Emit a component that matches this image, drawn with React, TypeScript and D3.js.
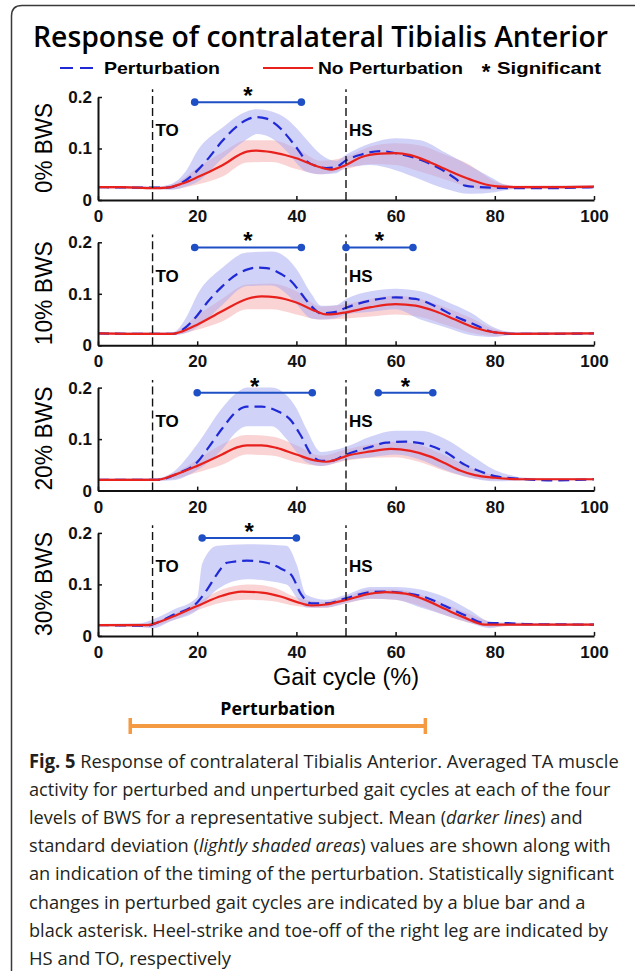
// Response of contralateral Tibialis Anterior - four BWS panels drawn with d3
import React, { useRef, useEffect } from 'react';
import * as d3 from 'd3';

// gait cycle event markers (% of cycle)
const toeOff = 11;
const heelStrike = 50;

const bwsLabels = ['0% BWS', '10% BWS', '20% BWS', '30% BWS'];
const xTicks = [0, 20, 40, 60, 80, 100];
const yTicks = [0, 0.1, 0.2];

// mean curves [gait %, activity]
const bws0Pert = [[0,0.025],[10,0.024],[14,0.024],[17,0.034],[20,0.057],[22,0.078],[25,0.114],[28,0.143],[30,0.156],[32,0.161],[34,0.158],[36,0.146],[38,0.126],[40,0.102],[42,0.076],[44,0.066],[46,0.062],[48,0.064],[50,0.077],[53,0.088],[57,0.095],[60,0.091],[65,0.078],[70,0.055],[72,0.042],[74,0.028],[77,0.025],[85,0.023],[90,0.023],[100,0.025]];
const bws0NoPert = [[0,0.025],[5,0.025],[11,0.023],[14,0.024],[17,0.032],[20,0.044],[25,0.067],[30,0.094],[32,0.096],[35,0.093],[40,0.081],[44,0.066],[47,0.059],[50,0.068],[53,0.083],[57,0.09],[60,0.091],[63,0.087],[67,0.073],[70,0.06],[75,0.04],[80,0.027],[85,0.025],[90,0.025],[100,0.026]];
const bws10Pert = [[0,0.023],[15,0.022],[17,0.03],[20,0.058],[22,0.083],[25,0.114],[28,0.138],[30,0.147],[32,0.151],[34,0.15],[37,0.138],[39,0.124],[41,0.1],[43,0.076],[45,0.062],[48,0.065],[50,0.073],[55,0.087],[60,0.093],[64,0.09],[68,0.076],[72,0.056],[76,0.04],[78,0.031],[80,0.025],[85,0.022],[100,0.023]];
const bws10NoPert = [[0,0.023],[10,0.022],[15,0.022],[17,0.027],[20,0.04],[25,0.066],[30,0.09],[33,0.095],[36,0.093],[40,0.083],[44,0.066],[46,0.06],[48,0.061],[50,0.064],[55,0.074],[60,0.08],[64,0.077],[68,0.066],[72,0.05],[76,0.034],[80,0.025],[85,0.022],[100,0.023]];
const bws20Pert = [[0,0.021],[12,0.021],[16,0.033],[20,0.055],[22,0.08],[25,0.12],[28,0.154],[30,0.163],[33,0.163],[36,0.155],[39,0.135],[41,0.105],[43,0.07],[45,0.058],[47,0.058],[50,0.07],[55,0.085],[58,0.093],[62,0.095],[66,0.09],[70,0.075],[74,0.05],[78,0.034],[80,0.028],[85,0.023],[92,0.02],[100,0.022]];
const bws20NoPert = [[0,0.021],[12,0.021],[15,0.029],[20,0.048],[25,0.07],[28,0.084],[30,0.088],[33,0.088],[36,0.083],[40,0.07],[44,0.058],[46,0.056],[48,0.06],[50,0.067],[55,0.076],[59,0.081],[63,0.077],[67,0.066],[70,0.053],[73,0.039],[76,0.03],[80,0.025],[85,0.022],[100,0.022]];
const bws30Pert = [[0,0.021],[10,0.02],[12,0.026],[15,0.04],[20,0.065],[22,0.09],[24,0.12],[26,0.142],[30,0.146],[34,0.142],[37,0.13],[39,0.118],[41,0.08],[43,0.063],[46,0.063],[50,0.073],[55,0.085],[58,0.086],[62,0.083],[66,0.075],[70,0.058],[74,0.04],[78,0.025],[82,0.025],[86,0.023],[100,0.022]];
const bws30NoPert = [[0,0.021],[10,0.021],[12,0.026],[15,0.037],[20,0.058],[25,0.078],[29,0.086],[33,0.084],[37,0.076],[40,0.066],[43,0.059],[46,0.061],[50,0.07],[55,0.082],[58,0.085],[62,0.082],[66,0.07],[70,0.052],[74,0.035],[78,0.022],[85,0.022],[100,0.022]];

// standard deviation bands [gait %, lower, upper]
const bws0PertSd = [[0,0.023,0.027],[12,0.021,0.026],[15,0.02,0.032],[18,0.027,0.06],[20,0.035,0.095],[25,0.08,0.14],[30,0.118,0.172],[32,0.128,0.176],[35,0.12,0.172],[38,0.095,0.158],[40,0.072,0.14],[42,0.055,0.118],[45,0.05,0.088],[48,0.052,0.076],[50,0.063,0.088],[55,0.068,0.11],[60,0.058,0.12],[65,0.04,0.116],[70,0.022,0.092],[75,0.012,0.066],[80,0.015,0.04],[82,0.019,0.03],[85,0.022,0.027],[100,0.023,0.028]];
const bws0NoPertSd = [[0,0.023,0.027],[12,0.021,0.026],[15,0.021,0.03],[20,0.03,0.062],[25,0.045,0.092],[30,0.073,0.116],[35,0.074,0.116],[40,0.06,0.1],[45,0.05,0.076],[50,0.06,0.084],[55,0.07,0.104],[60,0.068,0.11],[65,0.055,0.106],[70,0.04,0.088],[75,0.025,0.068],[78,0.02,0.048],[80,0.02,0.036],[84,0.022,0.028],[100,0.023,0.028]];
const bws10PertSd = [[0,0.021,0.025],[15,0.02,0.025],[18,0.025,0.058],[20,0.035,0.098],[25,0.078,0.15],[30,0.115,0.18],[35,0.116,0.182],[38,0.1,0.17],[40,0.08,0.148],[43,0.052,0.1],[45,0.05,0.077],[48,0.053,0.078],[50,0.06,0.09],[55,0.065,0.105],[60,0.07,0.11],[65,0.05,0.105],[70,0.035,0.086],[75,0.02,0.064],[80,0.016,0.034],[83,0.02,0.026],[100,0.021,0.025]];
const bws10NoPertSd = [[0,0.021,0.025],[15,0.02,0.025],[20,0.03,0.058],[25,0.046,0.09],[30,0.07,0.118],[35,0.07,0.12],[40,0.06,0.105],[45,0.05,0.075],[50,0.052,0.08],[55,0.056,0.09],[60,0.06,0.096],[65,0.055,0.09],[70,0.04,0.074],[75,0.025,0.054],[80,0.018,0.031],[83,0.02,0.026],[100,0.021,0.025]];
const bws20PertSd = [[0,0.019,0.023],[12,0.019,0.024],[15,0.02,0.035],[20,0.04,0.09],[25,0.08,0.16],[28,0.115,0.19],[30,0.125,0.2],[35,0.125,0.2],[38,0.1,0.185],[40,0.075,0.16],[42,0.055,0.12],[45,0.048,0.075],[50,0.06,0.085],[55,0.065,0.105],[60,0.07,0.116],[65,0.06,0.116],[70,0.04,0.1],[75,0.025,0.07],[80,0.018,0.04],[84,0.019,0.028],[88,0.02,0.024],[100,0.02,0.024]];
const bws20NoPertSd = [[0,0.019,0.023],[12,0.019,0.024],[15,0.022,0.032],[20,0.035,0.06],[25,0.05,0.09],[30,0.07,0.108],[35,0.068,0.105],[40,0.055,0.088],[45,0.048,0.068],[50,0.058,0.08],[55,0.064,0.09],[60,0.065,0.095],[65,0.055,0.088],[70,0.038,0.068],[75,0.025,0.045],[80,0.02,0.03],[84,0.02,0.025],[100,0.02,0.024]];
const bws30PertSd = [[0,0.019,0.023],[8,0.018,0.024],[11,0.015,0.032],[15,0.03,0.05],[20,0.05,0.075],[21,0.06,0.14],[24,0.09,0.175],[30,0.11,0.178],[38,0.1,0.175],[40,0.075,0.14],[42,0.055,0.08],[46,0.055,0.07],[50,0.064,0.08],[55,0.072,0.095],[60,0.07,0.095],[65,0.055,0.09],[70,0.04,0.075],[75,0.025,0.05],[79,0.015,0.028],[82,0.019,0.026],[100,0.02,0.024]];
const bws30NoPertSd = [[0,0.019,0.023],[10,0.017,0.025],[15,0.03,0.042],[20,0.05,0.065],[25,0.065,0.09],[30,0.07,0.1],[35,0.068,0.095],[40,0.058,0.075],[45,0.054,0.066],[50,0.063,0.076],[55,0.072,0.09],[60,0.07,0.09],[65,0.058,0.08],[70,0.04,0.062],[75,0.025,0.042],[80,0.017,0.026],[84,0.02,0.024],[100,0.02,0.024]];

// significant intervals [start %, end %]
const bws0Sig = [[19.5, 41]];
const bws10Sig = [[19.5, 41], [50, 63.5]];
const bws20Sig = [[20, 43.2], [56.5, 67.5]];
const bws30Sig = [[21, 40]];

// perturbation timing (% of cycle, on the shared axis)
const perturbation = [6.5, 66];

const captionLines = [
  [['b', 'Fig. 5 '], ['n', 'Response of contralateral Tibialis Anterior. Averaged TA muscle']],
  [['n', 'activity for perturbed and unperturbed gait cycles at each of the four']],
  [['n', 'levels of BWS for a representative subject. Mean ('], ['i', 'darker lines'], ['n', ') and']],
  [['n', 'standard deviation ('], ['i', 'lightly shaded areas'], ['n', ') values are shown along with']],
  [['n', 'an indication of the timing of the perturbation. Statistically significant']],
  [['n', 'changes in perturbed gait cycles are indicated by a blue bar and a']],
  [['n', 'black asterisk. Heel-strike and toe-off of the right leg are indicated by']],
  [['n', 'HS and TO, respectively']],
];
const captionWidths = [590, 582, 554, 582, 585, 557, 579, 202];

const panels = [
  { label: bwsLabels[0], pert: bws0Pert, noPert: bws0NoPert, pertSd: bws0PertSd, noPertSd: bws0NoPertSd, sig: bws0Sig },
  { label: bwsLabels[1], pert: bws10Pert, noPert: bws10NoPert, pertSd: bws10PertSd, noPertSd: bws10NoPertSd, sig: bws10Sig },
  { label: bwsLabels[2], pert: bws20Pert, noPert: bws20NoPert, pertSd: bws20PertSd, noPertSd: bws20NoPertSd, sig: bws20Sig },
  { label: bwsLabels[3], pert: bws30Pert, noPert: bws30NoPert, pertSd: bws30PertSd, noPertSd: bws30NoPertSd, sig: bws30Sig },
];

const width = 635;
const height = 971;
const chartFont = '"Liberation Sans", Arial, sans-serif';
const captionFont = '"Open Sans", sans-serif';
const blue = '#1f2ad6';
const red = '#e8211d';
const sigBlue = '#1f4fc4';

export default function App() {
  const ref = useRef(null);

  useEffect(() => {
    const svg = d3.select(ref.current);
    svg.selectAll('*').remove();

    // figure frame
    svg.append('path')
      .attr('d', 'M11.5,975 L11.5,16 Q11.5,5.5 22,5.5 L640,5.5')
      .attr('fill', 'none')
      .attr('stroke', '#3a3a3a')
      .attr('stroke-width', 1.5);

    svg.append('text')
      .attr('x', 33).attr('y', 47)
      .attr('textLength', 575).attr('lengthAdjust', 'spacingAndGlyphs')
      .style('font-family', '"Open Sans", sans-serif')
      .style('font-weight', 600)
      .style('font-size', '28px')
      .text('Response of contralateral Tibialis Anterior');

    // legend
    const lg = svg.append('g').style('font-family', chartFont).style('font-weight', 'bold').style('font-size', '17px');
    lg.append('line').attr('x1', 60).attr('x2', 100).attr('y1', 68).attr('y2', 68)
      .attr('stroke', blue).attr('stroke-width', 2.2).attr('stroke-dasharray', '13,7');
    lg.append('text').attr('x', 104).attr('y', 74).attr('textLength', 116).attr('lengthAdjust', 'spacingAndGlyphs').text('Perturbation');
    lg.append('line').attr('x1', 263).attr('x2', 313).attr('y1', 68).attr('y2', 68)
      .attr('stroke', red).attr('stroke-width', 2.2);
    lg.append('text').attr('x', 318).attr('y', 74).attr('textLength', 145).attr('lengthAdjust', 'spacingAndGlyphs').text('No Perturbation');
    lg.append('text').attr('x', 486).attr('y', 79).attr('text-anchor', 'middle').style('font-size', '22px').text('*');
    lg.append('text').attr('x', 497).attr('y', 74).attr('textLength', 104).attr('lengthAdjust', 'spacingAndGlyphs').text('Significant');

    const x = d3.scaleLinear().domain([0, 100]).range([98, 594]);
    const panelStep = 145.3;

    panels.forEach((p, i) => {
      const y0 = 200 + i * panelStep;
      const y = d3.scaleLinear().domain([0, 0.2]).range([y0, y0 - 103]);
      const g = svg.append('g');

      const band = d3.area()
        .x(d => x(d[0])).y0(d => y(d[1])).y1(d => y(d[2]))
        .curve(d3.curveMonotoneX);
      const line = d3.line()
        .x(d => x(d[0])).y(d => y(d[1]))
        .curve(d3.curveMonotoneX);

      g.append('path').attr('d', band(p.noPertSd)).attr('fill', '#f6a9a9').attr('fill-opacity', 0.5);
      g.append('path').attr('d', band(p.pertSd)).attr('fill', '#a3a6f2').attr('fill-opacity', 0.5);
      g.append('path').attr('d', line(p.pert)).attr('fill', 'none')
        .attr('stroke', blue).attr('stroke-width', 2.2).attr('stroke-dasharray', '11,6');
      g.append('path').attr('d', line(p.noPert)).attr('fill', 'none')
        .attr('stroke', red).attr('stroke-width', 2.2);

      // TO / HS markers
      [toeOff, heelStrike].forEach(ev => {
        g.append('line')
          .attr('x1', x(ev)).attr('x2', x(ev))
          .attr('y1', y(0)).attr('y2', y(0.215))
          .attr('stroke', '#111').attr('stroke-width', 1.4).attr('stroke-dasharray', '8,4');
      });
      g.append('text').attr('x', x(toeOff) + 3).attr('y', y(0.135) + 6)
        .style('font-family', chartFont).style('font-weight', 'bold').style('font-size', '17px').text('TO');
      g.append('text').attr('x', x(heelStrike) + 3).attr('y', y(0.135) + 6)
        .style('font-family', chartFont).style('font-weight', 'bold').style('font-size', '17px').text('HS');

      // significance bars
      p.sig.forEach(s => {
        const sg = g.append('g');
        sg.append('line').attr('x1', x(s[0])).attr('x2', x(s[1]))
          .attr('y1', y(0.19)).attr('y2', y(0.19))
          .attr('stroke', sigBlue).attr('stroke-width', 2);
        s.forEach(v => sg.append('circle').attr('cx', x(v)).attr('cy', y(0.19)).attr('r', 3.8).attr('fill', sigBlue));
        sg.append('text').attr('x', x((s[0] + s[1]) / 2)).attr('y', y(0.19) + 2)
          .attr('text-anchor', 'middle')
          .style('font-family', chartFont).style('font-weight', 'bold').style('font-size', '24px')
          .text('*');
      });

      // axes
      const xAxis = g.append('g').attr('transform', `translate(0,${y0})`)
        .call(d3.axisBottom(x).tickValues(xTicks).tickSizeInner(-4).tickSizeOuter(0).tickPadding(6).tickFormat(d3.format('d')));
      const yAxis = g.append('g').attr('transform', `translate(${x(0)},0)`)
        .call(d3.axisLeft(y).tickValues(yTicks).tickSizeInner(-4).tickSizeOuter(0).tickPadding(6)
          .tickFormat(d => d === 0 ? '0' : d3.format('.1f')(d)));
      [xAxis, yAxis].forEach(a => {
        a.select('.domain').attr('stroke', '#111').attr('stroke-width', 2);
        a.selectAll('.tick line').attr('stroke', '#111').attr('stroke-width', 1.5);
        a.selectAll('.tick text')
          .attr('fill', '#111')
          .style('font-family', chartFont).style('font-weight', 'bold').style('font-size', '17px');
      });
      xAxis.selectAll('.tick text').attr('dy', '0.95em');

      g.append('text')
        .attr('transform', `translate(52,${y0 - 52}) rotate(-90)`)
        .attr('text-anchor', 'middle')
        .attr('textLength', p.label.length > 6 ? 104 : 90).attr('lengthAdjust', 'spacingAndGlyphs')
        .style('font-family', chartFont).style('font-size', '23px')
        .text(p.label);
    });

    svg.append('text')
      .attr('x', x(50)).attr('y', 685)
      .attr('text-anchor', 'middle')
      .attr('textLength', 146).attr('lengthAdjust', 'spacingAndGlyphs')
      .style('font-family', chartFont).style('font-size', '23px')
      .text('Gait cycle (%)');

    // perturbation timing bar
    const pg = svg.append('g');
    const px0 = x(perturbation[0]);
    const px1 = x(perturbation[1]);
    pg.append('line').attr('x1', px0).attr('x2', px1).attr('y1', 726).attr('y2', 726)
      .attr('stroke', '#f39a43').attr('stroke-width', 4);
    [px0, px1].forEach(v => pg.append('line').attr('x1', v).attr('x2', v).attr('y1', 718).attr('y2', 734)
      .attr('stroke', '#f39a43').attr('stroke-width', 3.5));
    pg.append('text').attr('x', (px0 + px1) / 2).attr('y', 715).attr('text-anchor', 'middle')
      .attr('textLength', 115).attr('lengthAdjust', 'spacingAndGlyphs')
      .style('font-family', '"Open Sans", sans-serif').style('font-weight', 'bold').style('font-size', '17px')
      .text('Perturbation');

    // caption: measure each line and squeeze it horizontally to the reference width
    captionLines.forEach((ln, i) => {
      const t = svg.append('text')
        .style('font-family', captionFont).style('font-size', '19px').attr('fill', '#231f20');
      ln.forEach(seg => {
        const ts = t.append('tspan').text(seg[1]);
        if (seg[0] === 'b') ts.style('font-weight', 'bold');
        if (seg[0] === 'i') ts.style('font-style', 'italic');
      });
      const natural = t.node().getComputedTextLength() || captionWidths[i];
      const sx = Math.min(1, captionWidths[i] / natural);
      t.attr('transform', `translate(29,${768 + i * 28.1}) scale(${sx},1)`);
    });
  }, []);

  return (
    <svg ref={ref} width={width} height={height}
      style={{ position: 'absolute', left: 0, top: 0, background: '#fff' }} />
  );
}
